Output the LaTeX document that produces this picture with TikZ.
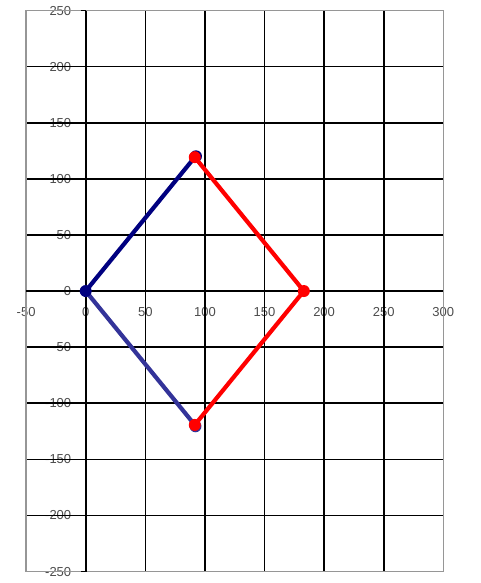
\documentclass[tikz,border=0pt]{standalone}
\usepackage{fontspec}
\setmainfont{Liberation Sans}
\usepackage{tikz}
\definecolor{navy}{RGB}{0,0,128}
\definecolor{slateblue}{RGB}{51,51,153}
\definecolor{framegray}{RGB}{150,150,150}

\begin{document}
\begin{tikzpicture}[x=1.192pt, y=1.122pt,
    tick/.style={font=\fontsize{13}{13}\selectfont, text=black!70, inner sep=0pt},
    dot/.style={circle, inner sep=0pt, minimum size=12pt}]
    \useasboundingbox (-71.9,-260.2) rectangle (331.6,259.4);

    % Tick labels
    \foreach \y in {-250,-200,...,250} {
        \node[tick, anchor=east] (ylab\y) at (-12,\y) {\y};
    }
    \foreach \x in {-50,0,...,300} {
        \node[tick] (xlab\x) at (\x,-18.5) {\x};
    }

    % Grid
    \foreach \x in {50,100,...,250} {
        \draw[line width=1.6pt] (\x,-250) -- (\x,250);
    }
    \foreach \y in {-200,-150,...,200} {
        \draw[line width=1.6pt] (-50,\y) -- (300,\y);
    }

    % Plot frame
    \draw[framegray, line width=1.6pt] (-50,-250) rectangle (300,250);

    % Axes with ticks
    \draw[line width=1.6pt] (-50,0) -- (300,0);
    \draw[line width=1.6pt] (0,-250) -- (0,250);
    \foreach \y in {-250,-200,...,250} {
        \draw[line width=1.2pt] (0,\y) -- (-4,\y);
    }

    % Data points
    \coordinate (O) at (0,0);
    \coordinate (T) at (91.5,119.3);
    \coordinate (R) at (183,0);
    \coordinate (B) at (91.5,-119.3);

    % Blue series
    \draw[navy, line width=4.2pt, line cap=round] (O) -- (T);
    \draw[slateblue, line width=4.2pt, line cap=round] (O) -- (B);
    \node[dot, fill=navy] (dO) at (O) {};
    \node[dot, fill=navy] (dTb) at ([shift={(1,0.8)}]T) {};
    \node[dot, fill=slateblue] (dBb) at ([shift={(0.6,-1.2)}]B) {};

    % Red series
    \draw[red, line width=4.2pt, line join=round] (T) -- (R) -- (B);
    \node[dot, fill=red] (dT) at (T) {};
    \node[dot, fill=red] (dR) at (R) {};
    \node[dot, fill=red] (dB) at (B) {};
\end{tikzpicture}
\end{document}
